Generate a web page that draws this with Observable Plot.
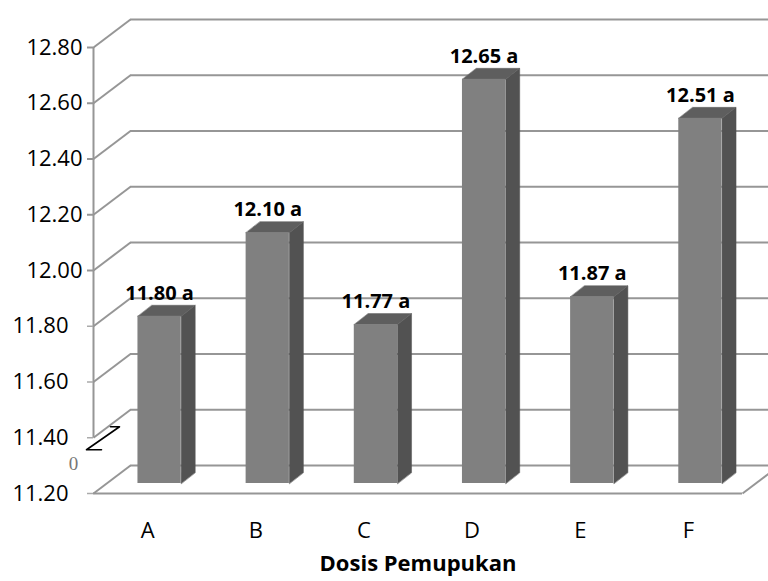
<!DOCTYPE html>
<html>
<head>
<meta charset="utf-8">
<script src="https://cdn.jsdelivr.net/npm/d3@7"></script>
<script src="https://cdn.jsdelivr.net/npm/@observablehq/plot@0.6"></script>
<style>
  html, body { margin: 0; padding: 0; background: #fff; overflow: hidden; }
  #chart svg { display: block; }
</style>
</head>
<body>
<div id="chart"></div>
<script>
// ---- data ----
const categories = ["A", "B", "C", "D", "E", "F"];
const values = [11.80, 12.10, 11.77, 12.65, 11.87, 12.51];
const notations = ["a", "a", "a", "a", "a", "a"];
const yTicks = [11.2, 11.4, 11.6, 11.8, 12.0, 12.2, 12.4, 12.6, 12.8];
const yTicksUpper = [12.0, 12.2, 12.4, 12.6, 12.8];
const yTicksLower = [11.2, 11.4, 11.6, 11.8];
const xTitle = "Dosis Pemupukan";
const breakLabel = "0";

// ---- layout ----
const W = 768, H = 581;
const mL = 93, mR = 26, mT = 47, mB = 88;
const yMin = 11.2, yMax = 12.8, yBreak = 11.4;
const ux = categories.length / (W - mL - mR);   // data units per px (x)
const uy = (yMax - yMin) / (H - mT - mB);        // data units per px (y)
const wall = {dx: 37, dy: 28};   // depth of the 3D box
const barOff = {dx: 12, dy: 10}; // bar position in depth
const barDepth = {dx: 14, dy: 11};
const barHalf = 0.2;
const grid = "#969696";

const rows = categories.map((c, i) => ({c, i, v: values[i], x1: i + 0.5 - barHalf, x2: i + 0.5 + barHalf}));

const sides = rows.flatMap(r => [
  [r.x2, yMin], [r.x2, r.v],
  [r.x2 + barDepth.dx * ux, r.v + barDepth.dy * uy],
  [r.x2 + barDepth.dx * ux, yMin + barDepth.dy * uy]
].map(([x, y]) => ({key: r.c, x, y})));

const tops = rows.flatMap(r => [
  [r.x1, r.v], [r.x2, r.v],
  [r.x2 + barDepth.dx * ux, r.v + barDepth.dy * uy],
  [r.x1 + barDepth.dx * ux, r.v + barDepth.dy * uy]
].map(([x, y]) => ({key: r.c, x, y})));

// break glyph, offsets in px from the break tick
const breakGlyph = [[17, -11], [26, -11], [-7, 12], [8, 12]]
  .map(([px, py]) => ({x: px * ux, y: yBreak - py * uy}));

const chart = Plot.plot({
  width: W, height: H,
  marginLeft: mL, marginRight: mR, marginTop: mT, marginBottom: mB,
  style: {fontFamily: "'Open Sans', sans-serif", fontSize: "20px", background: "#fff", overflow: "hidden"},
  x: {type: "linear", domain: [0, categories.length], axis: null},
  y: {domain: [yMin, yMax], axis: null},
  marks: [
    // back wall gridlines
    Plot.ruleY(yTicks, {x1: 0, x2: categories.length + 1, dx: wall.dx, dy: -wall.dy, stroke: grid, strokeWidth: 2}),
    // left wall diagonals
    Plot.link(yTicks, {x1: 0, y1: d => d, x2: wall.dx * ux, y2: d => d + wall.dy * uy, stroke: grid, strokeWidth: 2}),
    // floor front edge and right diagonal
    Plot.ruleY([yMin], {x1: 0, x2: categories.length, stroke: grid, strokeWidth: 2}),
    Plot.link([yMin], {x1: categories.length, y1: d => d, x2: categories.length + wall.dx * ux, y2: d => d + wall.dy * uy, stroke: grid, strokeWidth: 2}),
    // front vertical axis (broken)
    Plot.ruleX([0], {y1: yBreak, y2: yMax, stroke: grid, strokeWidth: 2}),
    // y ticks + labels (upper part)
    Plot.axisY(yTicksUpper, {x: 0, tickSize: 6, tickPadding: 5, stroke: grid, strokeWidth: 2, fill: "#000", fontSize: 22, tickFormat: d => d.toFixed(2), label: null}),
    // y ticks + labels (lower part, below the pasted break)
    Plot.axisY(yTicksLower, {x: 0, tickSize: 6, tickPadding: 19, stroke: "#aaaaaa", strokeWidth: 1.5, fill: "#000", fontSize: 22, tickFormat: d => d.toFixed(2), label: null}),
    // axis break glyph
    Plot.line(breakGlyph, {x: "x", y: "y", stroke: "#000", strokeWidth: 1.6}),
    Plot.text([breakLabel], {x: 0, y: yMin, dx: -20, dy: -30, fontFamily: "'Liberation Serif', serif", fontSize: 19, fill: "#777"}),
    // 3D bars
    Plot.line(sides, {x: "x", y: "y", z: "key", curve: "linear-closed", fill: "#525252", stroke: "#525252", strokeWidth: 0.5, dx: barOff.dx, dy: -barOff.dy}),
    Plot.line(tops, {x: "x", y: "y", z: "key", curve: "linear-closed", fill: "#5e5e5e", stroke: "#5e5e5e", strokeWidth: 0.5, dx: barOff.dx, dy: -barOff.dy}),
    Plot.rect(rows, {x1: "x1", x2: "x2", y1: yMin, y2: "v", fill: "#808080", dx: barOff.dx, dy: -barOff.dy}),
    // value labels
    Plot.text(rows, {x: r => r.i + 0.5, y: "v", text: r => r.v.toFixed(2) + " " + notations[r.i], dx: barOff.dx, dy: -barOff.dy - 23, fontWeight: "bold", fontSize: 20, fill: "#000"}),
    // x axis
    Plot.axisX(categories.map((c, i) => i + 0.5), {anchor: "bottom", tickSize: 0, tickPadding: 29, tickFormat: d => categories[Math.floor(d)], fontSize: 22, fill: "#000", label: null}),
    Plot.text([xTitle], {frameAnchor: "bottom", dx: 0, dy: 77, fontWeight: "bold", fontSize: 22, fill: "#000"})
  ]
});
document.getElementById("chart").appendChild(chart);
</script>
</body>
</html>
